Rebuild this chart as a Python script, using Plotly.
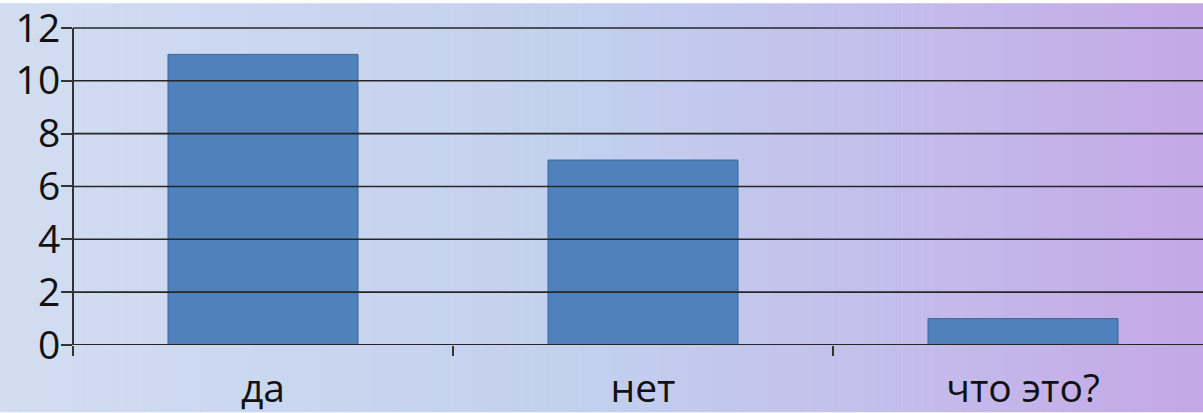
import plotly.graph_objects as go

categories = ["да", "нет", "что это?"]
values = [11, 7, 1]
y_ticks = [0, 2, 4, 6, 8, 10, 12]

W, H = 1203, 413
YTOP = 12.15
ML, MR, MB = 73, 0, 68
UNIT = (413 - 25 - MB) / 12.0
MT = round(25 - (YTOP - 12) * UNIT)
PW, PH = W - ML - MR, H - MT - MB

fig = go.Figure()
fig.add_trace(go.Bar(
    x=categories, y=values, width=0.5,
    marker=dict(color="#4f81bd", line=dict(color="#41658f", width=1)),
))

# background gradient (left light blue -> right purple)
stops = [(0.0, (0xd2, 0xdd, 0xf1)), (0.5, (0xc2, 0xcf, 0xee)),
         (0.75, (0xc3, 0xbd, 0xeb)), (1.0, (0xc4, 0xa8, 0xe7))]

def col(t):
    for (a, ca), (b, cb) in zip(stops[:-1], stops[1:]):
        if a <= t <= b:
            f = (t - a) / (b - a)
            return "rgb(%d,%d,%d)" % tuple(round(ca[i] + (cb[i] - ca[i]) * f) for i in range(3))
    return "rgb(%d,%d,%d)" % stops[-1][1]

N = 120
x0p, x1p = -ML / PW, 1 + MR / PW
y0p, y1p = -MB / PH, 1 + MT / PH
shapes = []
for i in range(N):
    a = x0p + (x1p - x0p) * i / N
    b = x0p + (x1p - x0p) * (i + 1.05) / N
    shapes.append(dict(type="rect", xref="paper", yref="paper", x0=a, x1=b,
                       y0=y0p, y1=y1p, fillcolor=col(i / (N - 1)),
                       line=dict(width=0), layer="below"))

font = dict(family="Open Sans", size=39, color="#111111")
fig.update_layout(
    width=W, height=H, margin=dict(l=ML, r=MR, t=MT, b=MB, pad=0),
    paper_bgcolor="rgba(0,0,0,0)", plot_bgcolor="rgba(0,0,0,0)",
    shapes=shapes, showlegend=False, bargap=0.5,
    xaxis=dict(range=[-0.5, -0.5 + PW / 380], showgrid=False, zeroline=False,
               showline=False, ticks="outside", tickson="boundaries",
               ticklen=10, tickwidth=2, tickcolor="#333333",
               tickfont=font, ticklabelstandoff=17, ticklabeloverflow="allow"),
    yaxis=dict(range=[0, YTOP], tickvals=y_ticks, showgrid=False,
               zeroline=False, showline=False,
               ticks="outside", ticklen=11, tickwidth=2, tickcolor="#333333",
               tickfont=font, ticklabelstandoff=-7, ticklabeloverflow="allow"),
)
for v in y_ticks:
    fig.add_hline(y=v, line=dict(color="#262626", width=2 if v == 0 else 1.6))
fig.add_shape(type="line", xref="paper", yref="y", x0=0, x1=0, y0=-0.1, y1=y_ticks[-1],
              line=dict(color="#333333", width=2))
fig.write_html("out.html")
